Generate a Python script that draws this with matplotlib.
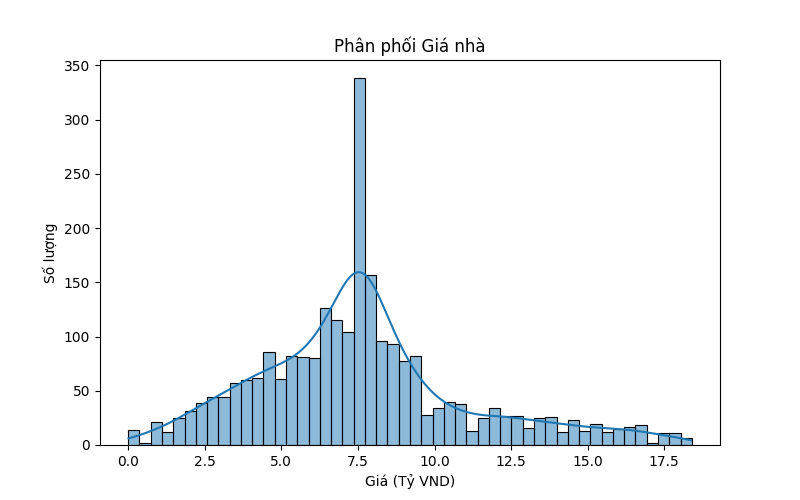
import numpy as np
import matplotlib
matplotlib.use("Agg")
import matplotlib.pyplot as plt
import seaborn as sns

# Histogram reconstruction (50 bins between 0 and 18.4 billion VND)
price_min = 0.0
price_max = 18.4
n_bins = 50
counts = [14, 2, 21, 12, 25, 31, 39, 44, 44, 57,
          60, 62, 86, 61, 82, 81, 80, 126, 115, 104,
          338, 157, 96, 93, 77, 82, 28, 34, 40, 38,
          13, 25, 34, 27, 27, 16, 25, 26, 12, 23,
          13, 19, 12, 15, 17, 18, 2, 11, 11, 6]

edges = np.linspace(price_min, price_max, n_bins + 1)
values = []
for lo, hi, c in zip(edges[:-1], edges[1:], counts):
    values.extend(lo + (np.arange(c) + 0.5) / c * (hi - lo))
values = np.array(values)

fig, ax = plt.subplots(figsize=(8, 5), dpi=100)
sns.histplot(values, bins=n_bins, binrange=(price_min, price_max), kde=True, ax=ax)
ax.set_title("Phân phối Giá nhà")
ax.set_xlabel("Giá (Tỷ VND)")
ax.set_ylabel("Số lượng")
fig.savefig("out.png", dpi=100)
